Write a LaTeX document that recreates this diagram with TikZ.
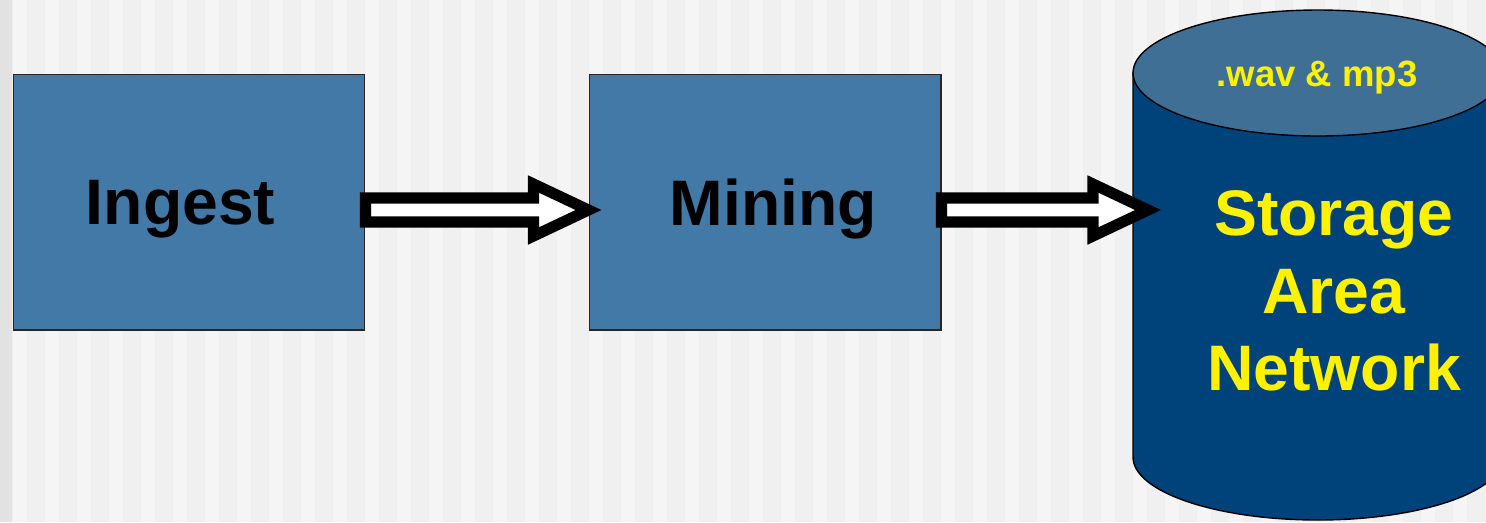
\documentclass[tikz,border=0pt]{standalone}
\usepackage{fontspec}
\setmainfont{Liberation Sans}
\usepackage{tikz}
\usetikzlibrary{calc,positioning}
\definecolor{boxblue}{RGB}{67,121,167}
\definecolor{santop}{RGB}{64,111,150}
\definecolor{sanbody}{RGB}{0,67,122}
\definecolor{bgbase}{RGB}{240,240,240}
\definecolor{bgstripe}{RGB}{245,245,245}
\definecolor{bgedge}{RGB}{226,226,226}
\tikzset{stage box/.style={draw=black!85,line width=0.6pt,fill=boxblue,minimum width=7.04cm,minimum height=5.12cm,inner sep=0pt,text depth=0pt,font=\fontsize{36.6}{44}\selectfont\bfseries},
	fat arrow/.style={draw=black,fill=white,line width=6.3pt,line join=miter,miter limit=10},
	san text/.style={text=yellow,align=center,font=\fontsize{36.6}{44}\selectfont\bfseries}}
\newcommand{\fatarrow}[2]{\draw[fat arrow] ($(#1)+(0,-12)$) -- ($(#2)+(-55,-12)$) -- ($(#2)+(-55,-26)$) -- (#2) -- ($(#2)+(-55,26)$) -- ($(#2)+(-55,12)$) -- ($(#1)+(0,12)$) -- cycle;}

\begin{document}
\begin{tikzpicture}[x=0.02cm,y=-0.02cm]
	\useasboundingbox (0,0) rectangle (1486,522);
	% background
	\fill[bgbase] (0,0) rectangle (1486,522);
	\foreach \s in {13,45,...,1480} \fill[bgstripe] (\s,0) rectangle +(14,522);
	\fill[bgedge] (0,0) rectangle (12,522);
	
	\node[stage box] (ingest) at (189,202) {\hspace*{-16\pgflinewidth}Ingest};
	\node[stage box] (mining) at (765,202) {Mining\hspace*{-16\pgflinewidth}};
	
	% storage cylinder
	\filldraw[fill=sanbody,draw=black,line width=0.8pt] (1133,73) -- (1133,457) arc[start angle=180,end angle=0,x radius=185,y radius=63] -- (1503,73) -- cycle;
	\filldraw[fill=santop,draw=black,line width=0.8pt] (1318,73) ellipse[x radius=185,y radius=63];
	\node[san text,anchor=base,font=\fontsize{20.8}{24}\selectfont\bfseries] (san top) at (1317,86) {.wav \& mp3};
	\node[san text] (san) at (1334,291) {Storage\\Area\\Network};
	
	\coordinate (ingest out) at ($(ingest.east)+(0,8)$);
	\coordinate (mining in) at ($(mining.west)+(0,8)$);
	\coordinate (mining out) at ($(mining.east)+(0,8)$);
	\coordinate (san in) at (1148,210);
	\fatarrow{ingest out}{mining in}
	\fatarrow{mining out}{san in}
\end{tikzpicture}
\end{document}
